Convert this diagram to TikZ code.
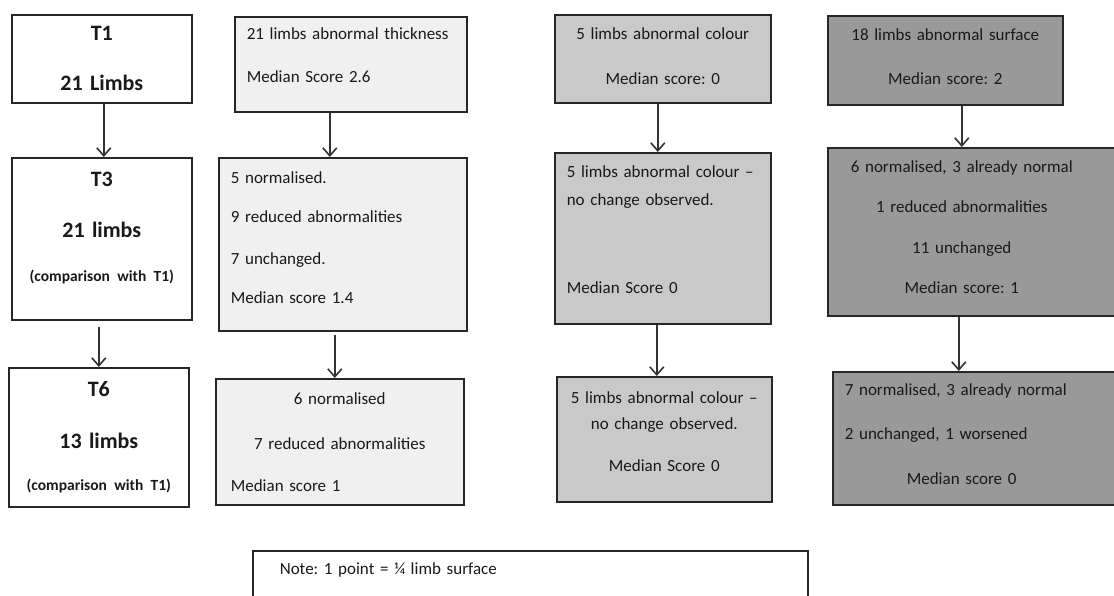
\documentclass[tikz,border=0pt]{standalone}
\usepackage{fontspec}
\setmainfont{Carlito}
\usetikzlibrary{arrows.meta}

\frenchspacing
\hyphenpenalty=10000
\exhyphenpenalty=10000
\newcommand{\dropby}[1]{\rule[-#1]{0pt}{#1}}
\newcommand{\toleft}[1]{#1\hskip 0pt plus 1filll\null}
\newcommand{\padr}{\rule{56pt}{0pt}}

\begin{document}
\begin{tikzpicture}[x=1pt,y=-1pt,
  stage/.style={draw=black!85, line width=1.6pt, text=black!90, anchor=north west,
    inner xsep=12pt, inner ysep=0pt, font=\fontsize{17}{21}\selectfont},
  timebox/.style={stage, fill=white, align=center, font=\bfseries\fontsize{22}{26}\selectfont},
  thickbox/.style={stage, fill=black!6},
  colourbox/.style={stage, fill=black!21},
  surfbox/.style={stage, fill=black!40},
  flow/.style={draw=black!80, line width=1.6pt,
    -{Straight Barb[length=8pt,width=14pt,line width=1.6pt]}}
]
\clip (0,0) rectangle (1114,596);

% time points
\node[timebox, text width=156pt, minimum height=88pt] (t1) at (11,14) {T1\\[24pt]21 Limbs};
\node[timebox, text width=156pt, minimum height=162pt] (t3) at (11,157)
  {T3\\[25pt]21 limbs\\[18pt]{\fontsize{15.5}{18}\selectfont (comparison with T1)}\dropby{24pt}};
\node[timebox, text width=156pt, minimum height=139pt] (t6) at (8,367)
  {T6\\[26pt]13 limbs\\[16pt]{\fontsize{15.5}{18}\selectfont (comparison with T1)}};

% thickness
\node[thickbox, align=left, text width=208pt, minimum height=95pt] (th1) at (234,16)
  {21 limbs abnormal thickness\\[22pt]Median Score 2.6\dropby{18pt}};
\node[thickbox, align=left, text width=224pt, minimum height=173pt] (th3) at (218,157)
  {5 normalised.\\[18pt]9 reduced abnormalities\\[21pt]7 unchanged.\\[18pt]Median score 1.4\dropby{13pt}};
\node[thickbox, align=center, text width=224pt, minimum height=126pt] (th6) at (215,378)
  {6 normalised\\[24pt]7 reduced abnormalities\\[21pt]\hspace*{3pt}\toleft{Median score 1}};

% colour
\node[colourbox, align=center, text width=192pt, minimum height=88pt] (co1) at (554,14)
  {5 limbs abnormal colour\\[24pt]Median score: 0\dropby{5pt}};
\node[colourbox, align=left, text width=192pt, minimum height=171pt] (co3) at (554,152)
  {\mbox{5 limbs abnormal colour –}\\[7pt]no change observed.\\[67pt]Median Score 0\dropby{17pt}};
\node[colourbox, align=center, inner xsep=4pt, text width=207pt, minimum height=125pt] (co6) at (556,376)
  {5 limbs abnormal colour –\\[5pt]no change observed.\\[21pt]Median Score 0\dropby{15pt}};

% surface
\node[surfbox, align=center, text width=211pt, minimum height=89pt] (su1) at (827,15)
  {18 limbs abnormal surface\\[23pt]Median score: 2\dropby{7pt}};
\node[surfbox, align=center, text width=300pt, minimum height=168pt] (su3) at (827,147)
  {6 normalised, 3 already normal\padr\\[19pt]1 reduced abnormalities\padr\\[20pt]11 unchanged\padr\\[19pt]Median score: 1\padr\dropby{9pt}};
\node[surfbox, align=left, text width=266pt, minimum height=133pt] (su6) at (832,371)
  {7 normalised, 3 already normal\\[23pt]2 unchanged, 1 worsened\\[24pt]\hspace*{62pt}Median score 0\dropby{8pt}};

\node[stage, fill=white, align=left, text width=501pt, inner xsep=27pt, inner ysep=12pt] (note) at (252,550)
  {Note: 1 point = ¼ limb surface\dropby{50pt}};

% arrows
\draw[flow] ([xshift=2pt]t1.south) -- ([xshift=2pt]t3.north);
\draw[flow, shorten <=6pt] ([xshift=-3pt]t3.south) -- (t6.north);
\draw[flow] ([xshift=-21pt]th1.south) -- ([xshift=-13pt]th3.north);
\draw[flow, shorten <=3pt] ([xshift=-8pt]th3.south) -- ([xshift=-5pt]th6.north);
\draw[flow] ([xshift=-5pt]co1.south) -- ([xshift=-5pt]co3.north);
\draw[flow] ([xshift=-6pt]co3.south) -- ([xshift=-7.5pt]co6.north);
\draw[flow] ([xshift=16.5pt]su1.south) -- ([xshift=-28pt]su3.north);
\draw[flow] ([xshift=-31pt]su3.south) -- ([xshift=-19pt]su6.north);
\end{tikzpicture}
\end{document}
